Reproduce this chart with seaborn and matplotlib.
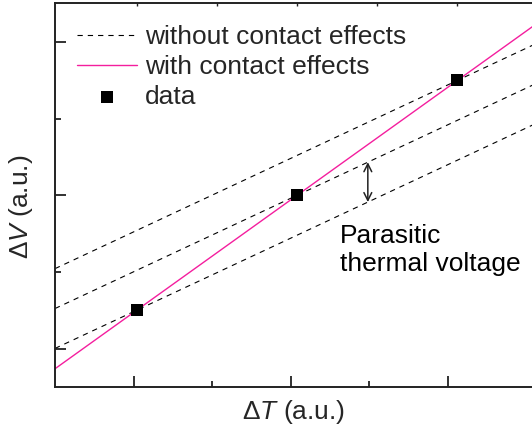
import numpy as np
import pandas as pd
import matplotlib
matplotlib.use("Agg")
import matplotlib.pyplot as plt
import seaborn as sns

# Measured points (arbitrary units)
delta_T = [1.04, 3.08, 5.12]
delta_V = [1.0, 2.5, 4.0]

# Intrinsic slope of the response without contact effects
intrinsic_slope = 0.48

# Axis ticks (no tick labels are drawn)
x_major = [1, 3, 5]
x_minor = [2, 4]
y_major = [0.5, 2.5, 4.5]
y_minor = [1.5, 3.5]
top_ticks = [1.04, 2.06, 3.08, 4.10, 5.12]

legend_labels = ["without contact effects", "with contact effects", "data"]
annotation_text = "Parasitic\nthermal voltage"
x_label = "Δ$\\mathit{T}$ (a.u.)"
y_label = "Δ$\\mathit{V}$ (a.u.)"

PINK = "#f41e9e"

sns.set_theme(style="white")
plt.rcParams["font.family"] = ["Liberation Sans", "DejaVu Sans"]
plt.rcParams["mathtext.fontset"] = "custom"
plt.rcParams["mathtext.rm"] = "Liberation Sans"
plt.rcParams["mathtext.it"] = "Liberation Sans:italic"
plt.rcParams["lines.scale_dashes"] = False

W, H = 532, 429
fig = plt.figure(figsize=(W / 100, H / 100), dpi=100)

x_unit = 78.6   # px per x unit
y_unit = 76.6   # px per y unit
left_px, bottom_px, top_px = 55.0, 386.8, 3.3
x_max = 7.0
y_max = (bottom_px - top_px) / y_unit
ax = fig.add_axes([left_px / W, (H - bottom_px) / H,
                   x_max * x_unit / W, (bottom_px - top_px) / H])
ax.set_xlim(0, x_max)
ax.set_ylim(0, y_max)

x_line = np.array([0.0, x_max])

# Parallel lines: each data point shifted by a constant parasitic offset
dashed_rows = []
for i, (xi, yi) in enumerate(zip(delta_T, delta_V)):
    for xv in x_line:
        dashed_rows.append({"x": xv, "y": yi + intrinsic_slope * (xv - xi), "line": i})
dashed = pd.DataFrame(dashed_rows)
for i, grp in dashed.groupby("line"):
    sns.lineplot(data=grp, x="x", y="y", ax=ax, color="black", lw=0.8,
                 linestyle=(0, (3.8, 3.6)),
                 label=legend_labels[0] if i == 0 else None, legend=False)

# Line through the data including contact effects
slope, intercept = np.polyfit(delta_T, delta_V, 1)
fit = pd.DataFrame({"x": x_line, "y": slope * x_line + intercept})
sns.lineplot(data=fit, x="x", y="y", ax=ax, color=PINK, lw=1.0,
             label=legend_labels[1], legend=False)

pts = pd.DataFrame({"x": delta_T, "y": delta_V})
sns.scatterplot(data=pts, x="x", y="y", ax=ax, marker="s", s=78,
                color="black", edgecolor="black", linewidth=0,
                label=legend_labels[2], legend=False, zorder=5)

# Double arrow between two neighbouring dashed lines
x_arrow = 3.98
y_low = delta_V[0] + intrinsic_slope * (x_arrow - delta_T[0])
y_high = delta_V[1] + intrinsic_slope * (x_arrow - delta_T[1])
ax.annotate("", xy=(x_arrow, y_low), xytext=(x_arrow, y_high),
            arrowprops=dict(arrowstyle="<->", color="#222222", lw=1.1,
                            shrinkA=0, shrinkB=0, mutation_scale=14))
ax.text(3.63, 2.12, annotation_text, fontsize=19, ha="left", va="top",
        linespacing=1.17, color="black")

# Axes frame and ticks
for side in ["left", "bottom", "top"]:
    ax.spines[side].set_color("#222222")
    ax.spines[side].set_linewidth(1.4)
ax.spines["right"].set_visible(False)
ax.set_xticks(x_major)
ax.set_xticks(x_minor, minor=True)
ax.set_yticks(y_major)
ax.set_yticks(y_minor, minor=True)
ax.tick_params(axis="both", which="major", direction="in", length=8.2,
               width=1.3, color="#222222", labelbottom=False, labelleft=False,
               bottom=True, left=True, top=False, right=False)
ax.tick_params(axis="both", which="minor", direction="in", length=4.6,
               width=1.3, color="#222222", bottom=True, left=True,
               top=False, right=False)
ax.set_xlabel("")
ax.set_ylabel("")

top = ax.secondary_xaxis("top")
top.set_xticks(top_ticks)
top.tick_params(direction="in", length=1.8, width=1.0, color="#222222",
                labeltop=False)
top.spines["top"].set_visible(False)

leg = ax.legend(loc="upper left", frameon=False, fontsize=19,
                bbox_to_anchor=((77 - left_px) / (x_max * x_unit), 1 - 22 / (bottom_px - top_px)),
                borderpad=0, borderaxespad=0, handlelength=2.27,
                handletextpad=0.3, labelspacing=0.22, markerscale=1.0)

fig.text(294 / W, 1 - 412 / H, x_label, fontsize=19, ha="center", va="center")
fig.text(21 / W, 1 - 207 / H, y_label, fontsize=19, ha="center", va="center",
         rotation=90)

fig.savefig("out.png", dpi=100)
